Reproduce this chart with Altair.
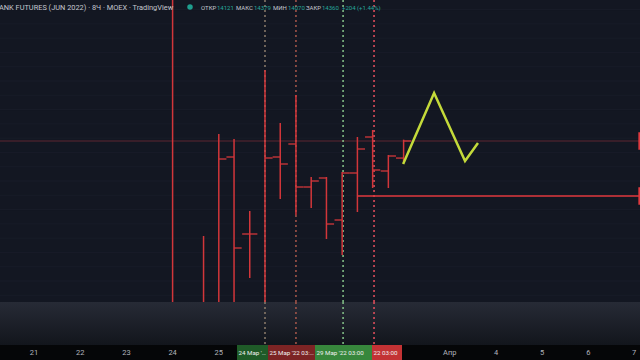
import altair as alt
import pandas as pd

# ---------------- data ----------------
# 8-hour bars, x in trading-day index (0 = 21 Mar)
bar_t = [3.67, 4.0, 4.33, 4.67, 5.0, 5.33, 5.67, 6.0, 6.33, 6.67, 7.0, 7.33, 7.67, 8.0]
bar_open = [None, None, 14136, 13058, None, 14136, 14318, 13716, 13842, 13254, 13912, 14416, 13940, 14121]
bar_high = [13030, 14458, 14388, 13380, 15354, 14612, 15004, 13856, 13856, 13926, 14416, 14514, 14164, 14379]
bar_low = [12000, 12000, 12000, 12442, 12000, 13548, 13324, 13422, 12988, 12764, 13366, 13702, 13702, 14070]
bar_close = [None, 14108, 12862, 13058, 14122, 14038, 13716, 13800, 13198, 13912, 14248, 13954, 14150, 14360]

# yellow-green projection line
proj_t = [7.99, 8.66, 9.33, 9.61]
proj_p = [14038, 15032, 14080, 14332]

# drawings
solid_vline_t = [3.0]
dotted_vline_t = [5.0, 5.67, 6.69, 7.36]
dotted_vline_color = ["#8c7d6c", "#a8584c", "#86c48a", "#e8505e"]
hline_start_t = [7.0]
hline_price = [13590]
last_price = [14360]

# axis labels
day_pos = [0, 1, 2, 3, 4, 9, 10, 11, 12, 13]
day_labels = ["21", "22", "23", "24", "25", "Апр", "4", "5", "6", "7"]

# header
title_text = "ANK FUTURES (JUN 2022) · 8Ч · MOEX · TradingView"
ohlc_names = ["ОТКР", "МАКС", "МИН", "ЗАКР"]
ohlc_values = ["14121", "14379", "14070", "14360"]
change_text = "+204 (+1.44%)"

# crosshair date boxes (visible parts)
box_text = ["24 Мар '22", "25 Мар '22  03:00", "29 Мар '22  03:00", "22  03:00"]
box_color = ["#1f5b28", "#7c2424", "#37873c", "#c33234"]

# ---------------- layout / style ----------------
FONT = "Roboto"
RED = "#d2363a"
BG = "#131722"
W, H = 640, 302
x_dom = [-0.736, 13.117]
y_dom = [12106, 16334]
xs = alt.Scale(domain=x_dom, nice=False, zero=False)
ys = alt.Scale(domain=y_dom, nice=False, zero=False)
one = pd.DataFrame({"a": [0]})

bars = pd.DataFrame(dict(t=bar_t, o=bar_open, h=bar_high, l=bar_low, c=bar_close))

grid = alt.Chart(pd.DataFrame({"p": list(range(12200, 16400, 200))})).mark_rule(
    color="#181c28", strokeWidth=1
).encode(y=alt.Y("p:Q", scale=ys, axis=None))

price_line = alt.Chart(pd.DataFrame({"p": last_price})).mark_rule(
    color="#5e2730", strokeWidth=1
).encode(y=alt.Y("p:Q", scale=ys, axis=None))

vdf = pd.DataFrame({"t": dotted_vline_t, "col": dotted_vline_color})


def dotted(y0, y1):
    return alt.Chart(vdf).mark_rule(strokeWidth=1.5, strokeDash=[2, 3]).encode(
        x=alt.X("t:Q", scale=xs, axis=None),
        y=alt.value(y0),
        y2=alt.value(y1),
        color=alt.Color("col:N", scale=None),
    )


wicks = alt.Chart(bars).mark_rule(color=RED, strokeWidth=1.5, clip=True).encode(
    x=alt.X("t:Q", scale=xs, axis=None),
    y=alt.Y("h:Q", scale=ys, axis=None),
    y2="l:Q",
)
opens = alt.Chart(bars).transform_filter("isValid(datum.o)").transform_calculate(
    t0="datum.t - 0.165"
).mark_rule(color=RED, strokeWidth=1.3, clip=True).encode(
    x=alt.X("t0:Q", scale=xs, axis=None), x2="t:Q", y=alt.Y("o:Q", scale=ys, axis=None)
)
closes = alt.Chart(bars).transform_filter("isValid(datum.c)").transform_calculate(
    t1="datum.t + 0.165"
).mark_rule(color=RED, strokeWidth=1.3, clip=True).encode(
    x=alt.X("t:Q", scale=xs, axis=None), x2="t1:Q", y=alt.Y("c:Q", scale=ys, axis=None)
)

solid_v = alt.Chart(pd.DataFrame({"t": solid_vline_t})).mark_rule(
    color=RED, strokeWidth=1.5
).encode(x=alt.X("t:Q", scale=xs, axis=None), y=alt.value(0), y2=alt.value(302))

hline = alt.Chart(pd.DataFrame({"t": hline_start_t, "p": hline_price, "e": [x_dom[1]]})).mark_rule(
    color="#e0393e", strokeWidth=1.5
).encode(x=alt.X("t:Q", scale=xs, axis=None), x2="e:Q", y=alt.Y("p:Q", scale=ys, axis=None))

proj = alt.Chart(pd.DataFrame({"t": proj_t, "p": proj_p})).mark_line(
    color="#c4da3a", strokeWidth=2.5
).encode(x=alt.X("t:Q", scale=xs, axis=None), y=alt.Y("p:Q", scale=ys, axis=None), order="t:Q")

tags = alt.Chart(pd.DataFrame({"p": last_price + hline_price})).mark_square(
    color="#e0393e", size=300, opacity=1
).encode(x=alt.value(647), y=alt.Y("p:Q", scale=ys, axis=None))

bottom_pane = alt.Chart(one).mark_rect(
    fill=alt.Gradient(
        gradient="linear",
        stops=[alt.GradientStop(color="#272b36", offset=0), alt.GradientStop(color="#12151c", offset=1)],
        x1=0, x2=0, y1=0, y2=1,
    )
).encode(x=alt.value(0), x2=alt.value(W), y=alt.value(302), y2=alt.value(345))

strip = alt.Chart(one).mark_rect(color="#050608").encode(
    x=alt.value(0), x2=alt.value(W), y=alt.value(345), y2=alt.value(360)
)

day_df = pd.DataFrame({"t": day_pos, "s": day_labels})
# all but the last day label through the day scale
day_text = alt.Chart(day_df.iloc[:-1]).mark_text(
    color="#b2b5be", fontSize=7.5, font=FONT, baseline="middle", align="center"
).encode(x=alt.X("t:Q", scale=xs, axis=None), y=alt.value(353), text="s:N")
# last day label, right at the edge of the plot
last_day = alt.Chart(day_df.iloc[-1:]).mark_text(
    color="#b2b5be", fontSize=7.5, font=FONT, baseline="middle", align="left"
).encode(x=alt.value(632), y=alt.value(353), text="s:N")

box_x0 = [237, 268, 315, 372]
box_x1 = [268, 315, 372, 402]
box_layers = []
for a, b, s, col in zip(box_x0, box_x1, box_text, box_color):
    box_layers.append(
        alt.Chart(one).mark_rect(color=col).encode(
            x=alt.value(a), x2=alt.value(b), y=alt.value(345), y2=alt.value(360)
        )
    )
    box_layers.append(
        alt.Chart(one).mark_text(
            text=s, color="#f0f0f0", fontSize=6.2, font=FONT, align="left",
            baseline="middle", limit=b - a - 1, ellipsis=""
        ).encode(x=alt.value(a + 1.5), y=alt.value(353))
    )


def label(text, px, py, color, size):
    return alt.Chart(one).mark_text(
        text=text, align="left", baseline="middle", color=color, fontSize=size, font=FONT
    ).encode(x=alt.value(px), y=alt.value(py))


header = [label(title_text, -1, 8, "#c3c6ce", 7.4)]
name_px = [201, 236, 273, 306]
val_px = [217, 254, 288, 322]
for n, v, a, b in zip(ohlc_names, ohlc_values, name_px, val_px):
    header.append(label(n, a, 8, "#c3c6ce", 6))
    header.append(label(v, b, 8, "#26a69a", 6))
header.append(label(change_text, 342, 8, "#26a69a", 6))
dot = alt.Chart(one).mark_circle(color="#1f9e8e", size=30, opacity=1).encode(
    x=alt.value(190), y=alt.value(7)
)

chart = alt.layer(
    grid, price_line, dotted(0, 302), wicks, opens, closes, solid_v, hline, proj,
    bottom_pane, strip, dotted(302, 345), tags, *box_layers, day_text, last_day, dot, *header
).properties(
    width=W, height=H, background=BG,
    padding={"left": 0, "right": 0, "top": 0, "bottom": 58},
    autosize=alt.AutoSizeParams(type="none"),
).configure_view(stroke=None)

chart.save("out.html", embed_options={"renderer": "svg", "actions": False})
